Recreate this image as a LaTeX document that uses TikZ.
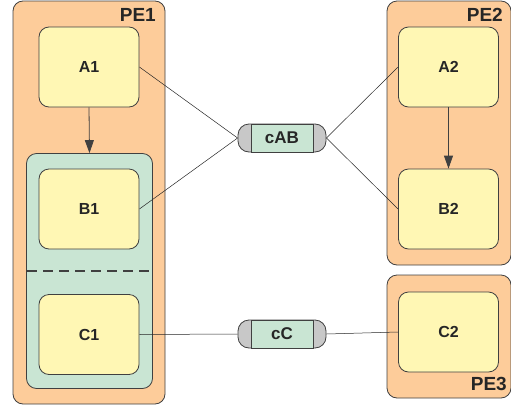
\documentclass[tikz,border=0pt]{standalone}
\usepackage{fontspec}
\setmainfont{Liberation Sans}
\usepackage{tikz}
\usetikzlibrary{calc}
\usetikzlibrary{arrows.meta}

\definecolor{peach}{RGB}{253,204,154}
\definecolor{cream}{RGB}{255,247,180}
\definecolor{mint}{RGB}{201,229,211}
\definecolor{capgray}{RGB}{200,200,200}
\definecolor{edge}{RGB}{64,64,64}

\begin{document}
\begin{tikzpicture}[x=1pt,y=-1pt,
    pe/.style={draw=edge, line width=0.8pt, fill=peach, rounded corners=10pt},
    proc/.style={draw=edge, line width=0.8pt, fill=cream, rounded corners=10pt,
      minimum width=100pt, minimum height=80pt, text=black!85, font=\bfseries\fontsize{16}{16}\selectfont},
    grp/.style={draw=edge, line width=0.8pt, fill=mint, rounded corners=10pt},
    chancase/.style={draw=edge, line width=0.8pt, fill=capgray, rounded corners=11pt,
      minimum width=88pt, minimum height=28pt},
    chan/.style={draw=edge, line width=0.8pt, fill=mint,
      minimum width=62pt, minimum height=28pt, text=black!85, font=\bfseries\fontsize{17}{17}\selectfont},
    pelabel/.style={anchor=base east, inner sep=0pt, text=black!85, font=\bfseries\fontsize{19}{19}\selectfont},
    link/.style={line width=0.5pt, draw=black!85}]
  \useasboundingbox (0,0) rectangle (511,407);

  % processing elements
  \node [pe, minimum width=152pt, minimum height=403pt] (pe1) at (89,202.5) {};
  \node [pe, minimum width=124pt, minimum height=264pt] (pe2) at (449,133) {};
  \node [pe, minimum width=124pt, minimum height=123pt] (pe3) at (449,336.5) {};
  \node [pelabel] (pe1l) at (156,21) {PE1};
  \node [pelabel] (pe2l) at (503,21) {PE2};
  \node [pelabel] (pe3l) at (507,390) {PE3};

  % group of B1 and C1
  \node [grp, minimum width=126pt, minimum height=235pt] (bc) at (89.5,271) {};

  % processes
  \node [proc] (a1) at (89,67) {A1};
  \node [proc] (b1) at (89,209) {B1};
  \node [proc] (c1) at (89,334.5) {C1};
  \node [proc] (a2) at (448.5,67) {A2};
  \node [proc] (b2) at (448.5,209) {B2};
  \node [proc] (c2) at (448.5,332) {C2};

  \coordinate (cutl) at (27,271);
  \coordinate (cutr) at (152,271);
  \draw [edge, line width=1.6pt, dash pattern=on 10pt off 6pt] (cutl) -- (cutr);

  % channels
  \node [chancase] (cabc) at (282,138) {};
  \node [chan] (cab) at (282,138) {cAB};
  \node [chancase] (ccc) at (282,334) {};
  \node [chan] (cc) at (282,334) {cC};

  \draw [link] (a1.east) -- (cabc.west);
  \draw [link] (b1.east) -- (cabc.west);
  \draw [link] (cabc.east) -- (a2.west);
  \draw [link] (cabc.east) -- (b2.west);
  \draw [link] (c1.east) -- (ccc.west);
  \draw [link] (ccc.east) -- (c2.west);

  \draw [edge, line width=0.8pt, -{Triangle[length=13pt,width=9pt]}] (a1.south) -- (bc.north);
  \draw [edge, line width=0.8pt, -{Triangle[length=13pt,width=9pt]}] (a2.south) -- (b2.north);
\end{tikzpicture}
\end{document}
